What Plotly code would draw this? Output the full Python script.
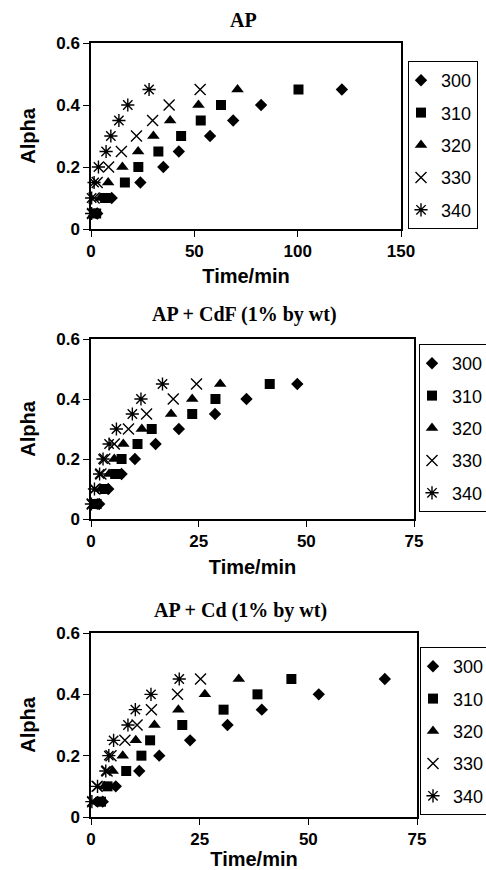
import plotly.graph_objects as go

# ---------------- data ----------------
alpha = [0.05, 0.10, 0.15, 0.20, 0.25, 0.30, 0.35, 0.40, 0.45]
series_names = ["300", "310", "320", "330", "340"]

panel_titles = ["AP", "AP + CdF (1% by wt)", "AP + Cd (1% by wt)"]
x_max = [150, 75, 75]
x_dtick = [50, 25, 25]

# Panel 1: AP
ap_300 = [3.0, 10.0, 23.9, 35.0, 42.5, 57.6, 68.8, 82.3, 121.4]
ap_310 = [2.5, 6.8, 16.4, 22.9, 32.6, 43.6, 53.1, 62.9, 100.4]
ap_320 = [1.5, 4.5, 8.3, 15.2, 22.8, 30.2, 38.3, 52.0, 70.9]
ap_330 = [0.8, 1.5, 3.0, 8.5, 14.7, 22.0, 29.8, 37.8, 52.8]
ap_340 = [0.3, 0.3, 1.5, 3.6, 7.3, 9.6, 13.5, 17.8, 28.1]

# Panel 2: AP + CdF
cdf_300 = [1.9, 4.0, 7.1, 10.2, 15.0, 20.4, 28.8, 36.1, 47.9]
cdf_310 = [1.3, 3.2, 5.6, 7.1, 10.8, 14.1, 23.5, 28.9, 41.5]
cdf_320 = [0.9, 2.3, 4.2, 5.4, 7.5, 11.8, 18.6, 23.5, 30.0]
cdf_330 = [0.3, 0.9, 2.3, 3.2, 5.4, 8.7, 12.9, 19.1, 24.5]
cdf_340 = [0.1, 0.8, 2.0, 2.8, 4.2, 5.9, 9.6, 11.6, 16.6]

# Panel 3: AP + Cd
cd_300 = [2.7, 5.7, 11.1, 15.7, 22.8, 31.4, 39.3, 52.4, 67.6]
cd_310 = [2.3, 3.8, 8.1, 11.6, 13.6, 21.0, 30.5, 38.3, 46.1]
cd_320 = [1.5, 3.1, 5.0, 7.3, 10.3, 14.6, 20.1, 26.2, 34.0]
cd_330 = [0.4, 1.4, 3.7, 4.6, 7.8, 10.6, 13.9, 19.9, 25.2]
cd_340 = [0.2, 1.5, 3.4, 4.1, 5.2, 8.5, 10.2, 13.8, 20.3]

panels = [
    [ap_300, ap_310, ap_320, ap_330, ap_340],
    [cdf_300, cdf_310, cdf_320, cdf_330, cdf_340],
    [cd_300, cd_310, cd_320, cd_330, cd_340],
]

# ---------------- style ----------------
W, H = 486, 870
symbols = ["diamond", "square", "triangle-up", "x-thin-open", "asterisk-open"]
sizes = [9.5, 10, 11, 11, 11]

# plot-area pixel boxes (left, right, top, bottom)
boxes = [(91, 401, 43, 229), (91, 414, 339, 519), (91, 417, 633, 817)]
legend_boxes = [(408, 61), (419, 344), (420, 647)]
title_pos = [(243, 20), (244, 315), (240, 610)]
xtitle_standoff = [9, 10, 6]

SANS = "Liberation Sans"
SERIF = "Liberation Serif"

fig = go.Figure()

for p in range(3):
    sfx = "" if p == 0 else str(p + 1)
    leg = "legend" if p == 0 else f"legend{p + 1}"
    for s, name in enumerate(series_names):
        open_sym = symbols[s].endswith("open")
        fig.add_trace(go.Scatter(
            x=panels[p][s], y=alpha, mode="markers", name=name,
            xaxis="x" + sfx, yaxis="y" + sfx, legend=leg,
            legendgroup=f"p{p}_{name}", cliponaxis=False,
            marker=dict(symbol=symbols[s], size=sizes[s], color="black",
                        line=dict(color="black", width=1.4 if open_sym else 0)),
            hoverinfo="x+y",
        ))

layout = dict(
    width=W, height=H,
    margin=dict(l=0, r=0, t=0, b=0, autoexpand=False),
    paper_bgcolor="white", plot_bgcolor="white",
    font=dict(family=SANS, color="black"),
    annotations=[],
)

for p in range(3):
    sfx = "" if p == 0 else str(p + 1)
    l, r, t, b = boxes[p]
    xa = dict(
        domain=[l / W, r / W], anchor="y" + sfx, range=[0, x_max[p]],
        dtick=x_dtick[p], tick0=0, ticks="outside", ticklen=6, tickwidth=1.2,
        tickcolor="black", showline=True, linecolor="black", linewidth=1.5,
        mirror=True, showgrid=False, zeroline=False,
        tickfont=dict(family=SANS, size=17, weight="bold", color="black"),
        title=dict(text="Time/min", standoff=xtitle_standoff[p],
                   font=dict(family=SANS, size=20, weight="bold", color="black")),
    )
    ya = dict(
        domain=[1 - b / H, 1 - t / H], anchor="x" + sfx, range=[0, 0.6],
        dtick=0.2, tick0=0, ticks="outside", ticklen=6, tickwidth=1.2,
        tickcolor="black", showline=True, linecolor="black", linewidth=1.5,
        mirror=True, showgrid=False, zeroline=False,
        tickfont=dict(family=SANS, size=17, weight="bold", color="black"),
        title=dict(text="Alpha", standoff=15,
                   font=dict(family=SANS, size=20, weight="bold", color="black")),
    )
    layout["xaxis" + sfx] = xa
    layout["yaxis" + sfx] = ya

    lx, ly = legend_boxes[p]
    leg = "legend" if p == 0 else f"legend{p + 1}"
    layout[leg] = dict(
        x=lx / W, y=1 - ly / H, xanchor="left", yanchor="top",
        xref="paper", yref="paper",
        bordercolor="black", borderwidth=1, bgcolor="white",
        font=dict(family=SANS, size=18, color="black"),
        tracegroupgap=6, itemwidth=30, indentation=-8,
    )

    tx, ty = title_pos[p]
    layout["annotations"].append(dict(
        text=panel_titles[p], x=tx / W, y=1 - ty / H, xref="paper", yref="paper",
        xanchor="center", yanchor="middle", showarrow=False,
        font=dict(family=SERIF, size=20, weight="bold", color="black"),
    ))

fig.update_layout(**layout)
fig.write_html("out.html")
